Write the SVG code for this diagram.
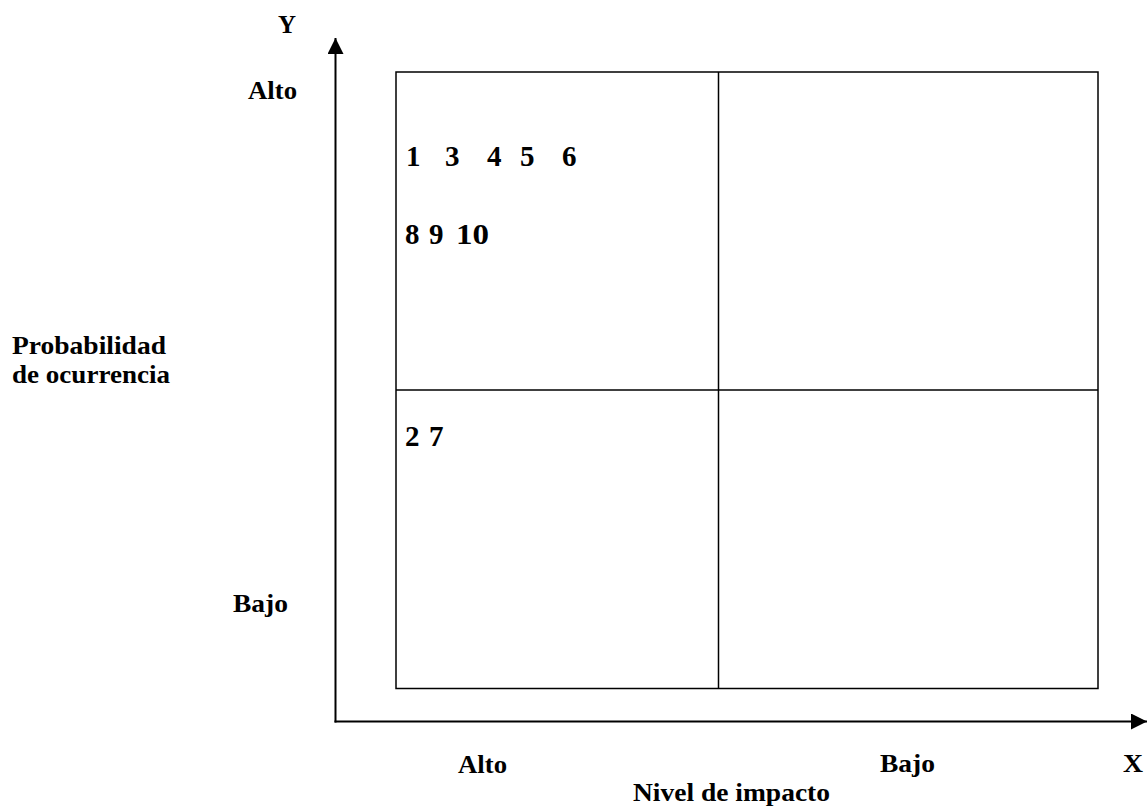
<svg xmlns="http://www.w3.org/2000/svg" width="1147" height="807" viewBox="0 0 1147 807">
<style>
text{font-family:"Liberation Serif","Times New Roman",serif;font-weight:bold;font-size:25px;fill:#000}
.n{font-size:29px}
.ln{stroke:#000;stroke-width:1.5;fill:none}
.ax{stroke:#000;stroke-width:2;fill:none}
</style>
<defs>
<marker id="ah" viewBox="0 0 16 16" refX="16" refY="8" markerWidth="16" markerHeight="16" markerUnits="userSpaceOnUse" orient="auto">
<path d="M0,0 L16,8 L0,16 Z" fill="#000"/>
</marker>
</defs>
<rect width="1147" height="807" fill="#fff"/>
<g id="connectors">
<line class="ax" x1="335.5" y1="722.5" x2="335.5" y2="38" marker-end="url(#ah)"/>
<line class="ax" x1="334.5" y1="721.5" x2="1147" y2="721.5" marker-end="url(#ah)"/>
</g>
<g id="grid">
<rect class="ln" x="396" y="72" width="702" height="616.5"/>
<line class="ln" x1="718.5" y1="72" x2="718.5" y2="688.5"/>
<line class="ln" x1="396" y1="390" x2="1098" y2="390"/>
</g>
<g id="labels">
<text x="278" y="33" textLength="18" lengthAdjust="spacingAndGlyphs">Y</text>
<text x="248" y="99" textLength="49" lengthAdjust="spacingAndGlyphs">Alto</text>
<text x="233" y="612" textLength="55" lengthAdjust="spacingAndGlyphs">Bajo</text>
<text x="12" y="354" textLength="154" lengthAdjust="spacingAndGlyphs">Probabilidad</text>
<text x="12" y="383" textLength="158" lengthAdjust="spacingAndGlyphs">de ocurrencia</text>
<text x="458" y="773" textLength="49" lengthAdjust="spacingAndGlyphs">Alto</text>
<text x="880" y="772" textLength="55" lengthAdjust="spacingAndGlyphs">Bajo</text>
<text x="1123" y="772" textLength="20" lengthAdjust="spacingAndGlyphs">X</text>
<text x="633" y="801" textLength="197" lengthAdjust="spacingAndGlyphs">Nivel de impacto</text>
</g>
<g id="quadrant-high-high">
<text class="n" x="406" y="166">1</text>
<text class="n" x="445" y="166">3</text>
<text class="n" x="487" y="166">4</text>
<text class="n" x="520" y="166">5</text>
<text class="n" x="562" y="166">6</text>
<text class="n" x="405" y="244">8</text>
<text class="n" x="429" y="244">9</text>
<text class="n" x="456" y="244" textLength="33" lengthAdjust="spacingAndGlyphs">10</text>
</g>
<g id="quadrant-low-high">
<text class="n" x="405" y="446">2</text>
<text class="n" x="429" y="446">7</text>
</g>
</svg>
